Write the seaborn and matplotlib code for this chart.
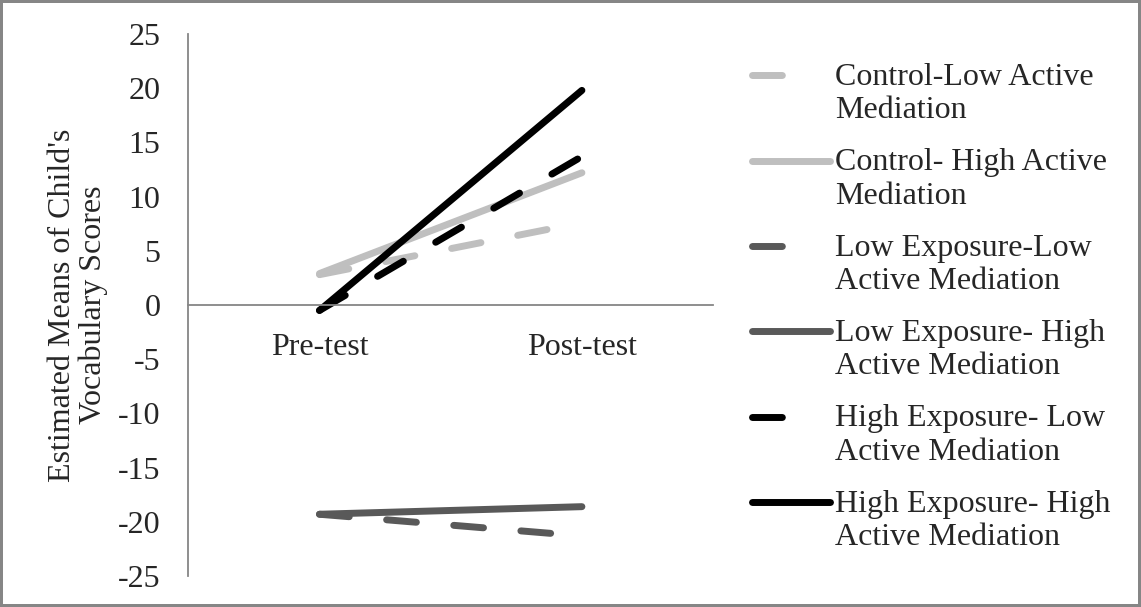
import pandas as pd
import numpy as np
import matplotlib
matplotlib.use("Agg")
import matplotlib.pyplot as plt
import seaborn as sns
from matplotlib.legend_handler import HandlerLine2D

# data
phases = ["Pre-test", "Post-test"]
groups = ["Control-Low Active\nMediation",
          "Control- High Active\nMediation",
          "Low Exposure-Low\nActive Mediation",
          "Low Exposure- High\nActive Mediation",
          "High Exposure- Low\nActive Mediation",
          "High Exposure- High\nActive Mediation"]
control_low = [2.8, 7.6]
control_high = [2.9, 12.2]
lowexp_low = [-19.3, -21.3]
lowexp_high = [-19.3, -18.6]
highexp_low = [-0.5, 13.7]
highexp_high = [-0.5, 19.8]

series = [control_low, control_high, lowexp_low, lowexp_high, highexp_low, highexp_high]
df = pd.DataFrame({
    "phase": phases * len(groups),
    "group": np.repeat(groups, len(phases)),
    "score": np.concatenate(series),
})

colors = ["#bfbfbf", "#bfbfbf", "#595959", "#595959", "#000000", "#000000"]
palette = dict(zip(groups, colors))
dash_pat = (4.3, 5.4)
dashes = {g: (dash_pat if i % 2 == 0 else "") for i, g in enumerate(groups)}
LW = 5.0

sns.set_style("white")
plt.rcParams['font.family'] = ['Liberation Serif', 'DejaVu Serif']
plt.rcParams['font.size'] = 23
plt.rcParams['axes.unicode_minus'] = False

fig = plt.figure(figsize=(11.41, 6.07), dpi=100)
ax = fig.add_axes([0.165, 0.051, 0.46, 0.893])

sns.lineplot(data=df, x="phase", y="score", hue="group", style="group",
             palette=palette, dashes=dashes, linewidth=LW, sort=False,
             ax=ax, legend=True)
for ln in ax.get_lines():
    ln.set_solid_capstyle("round")
    ln.set_dash_capstyle("round")

ax.set_xlim(-0.5, 1.5)
ax.set_ylim(-25, 25)
ax.set_yticks(np.arange(-25, 26, 5))
ax.set_xticks([0, 1])
ax.set_xticklabels(phases)
ax.set_xticks([-0.5, 0.5, 1.5], minor=True)
ax.tick_params(axis="x", which="major", length=0, pad=20)
ax.tick_params(axis="x", which="minor", length=8, width=1.3, color="#868686", direction="out")
ax.tick_params(axis="y", length=8, width=1.3, color="#868686", direction="out", pad=12)
ax.set_xlabel("")
ax.set_ylabel("Estimated Means of Child's\nVocabulary Scores", linespacing=1.1)
ax.yaxis.set_label_coords(-0.152, 0.5)

for s in ["top", "right"]:
    ax.spines[s].set_visible(False)
ax.spines["bottom"].set_position(("data", 0))
for s in ["left", "bottom"]:
    ax.spines[s].set_color("#868686")
    ax.spines[s].set_linewidth(1.3)


# legend handles sit next to the first line of each two-line label
class TopHandler(HandlerLine2D):
    def create_artists(self, legend, orig_handle, xdescent, ydescent,
                       width, height, fontsize, trans):
        arts = super().create_artists(legend, orig_handle, xdescent, ydescent,
                                      width, height, fontsize, trans)
        for a in arts:
            a.set_ydata(np.asarray(a.get_ydata()) + 0.58 * fontsize)
        return arts


handles, labels = ax.get_legend_handles_labels()
ax.get_legend().remove()
leg = fig.legend(handles, labels, loc="upper left", bbox_to_anchor=(0.645, 0.923),
                 frameon=False, handlelength=2.45, handletextpad=0.15,
                 labelspacing=0.72, borderpad=0,
                 handler_map={h: TopHandler() for h in handles})
for i, ln in enumerate(leg.get_lines()):
    ln.set_linewidth(LW)
    ln.set_solid_capstyle("round")
    ln.set_dash_capstyle("round")
    if i % 2 == 0:
        ln.set_dashes((4.3, 20))

fig.patch.set_edgecolor("#868686")
fig.patch.set_linewidth(3)

fig.savefig("out.png", dpi=100)
